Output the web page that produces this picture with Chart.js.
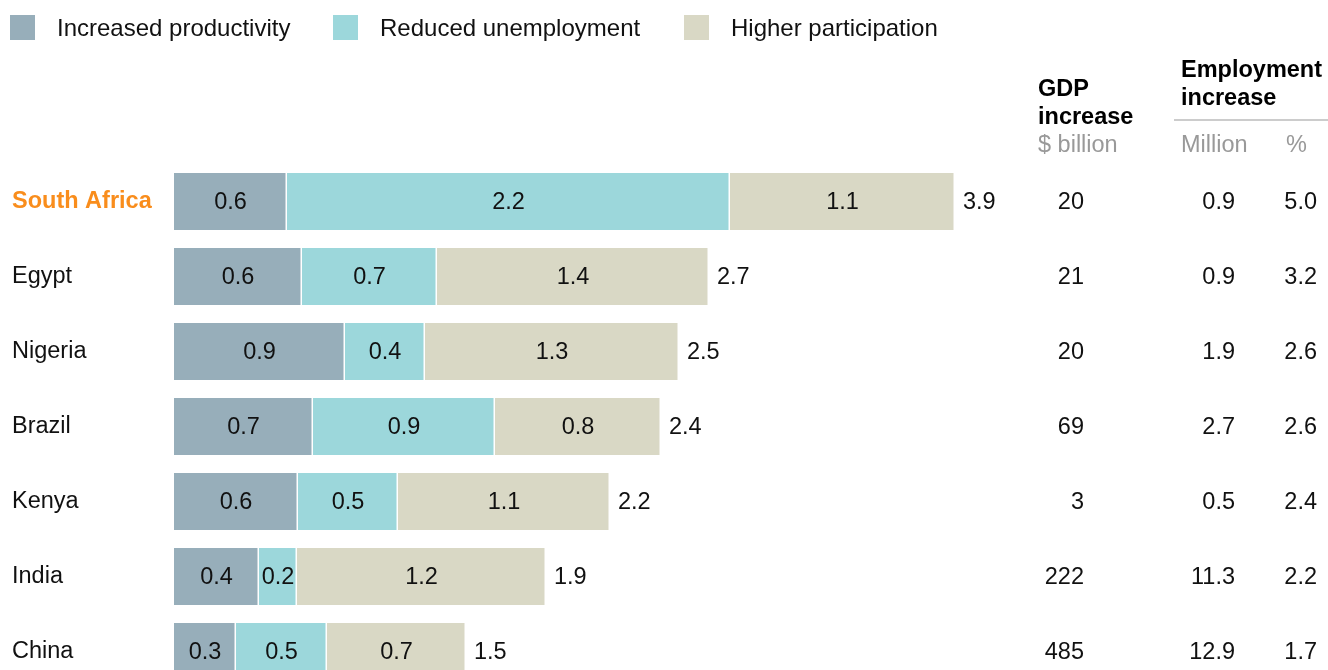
<!DOCTYPE html>
<html>
<head>
<meta charset="utf-8">
<script src="https://cdn.jsdelivr.net/npm/chart.js@4"></script>
<style>
  html, body { margin: 0; padding: 0; background: #fff; overflow: hidden; }
  canvas { display: block; }
</style>
</head>
<body>
<canvas id="chart" width="1328" height="703"></canvas>
<script>
const countries = ["South Africa", "Egypt", "Nigeria", "Brazil", "Kenya", "India", "China"];
// segment sizes (labels show them rounded to one decimal)
const productivity = [0.565, 0.64, 0.855, 0.695, 0.62, 0.425, 0.31];
const unemployment = [2.215, 0.675, 0.40, 0.91, 0.50, 0.19, 0.455];
const participation = [1.125, 1.36, 1.27, 0.83, 1.06, 1.245, 0.695];
const gdpIncrease = [20, 21, 20, 69, 3, 222, 485];
const empMillion = [0.9, 0.9, 1.9, 2.7, 0.5, 11.3, 12.9];
const empPercent = [5.0, 3.2, 2.6, 2.6, 2.4, 2.2, 1.7];
const seriesNames = ["Increased productivity", "Reduced unemployment", "Higher participation"];
const seriesColors = ["#97AEBA", "#9CD7DB", "#D9D8C5"];

const FONT = "'Liberation Sans', Arial, sans-serif";
const highlight = "South Africa";
const orange = "#F98D1C";

const extras = {
  id: "extras",
  afterDatasetsDraw(chart) {
    const ctx = chart.ctx;
    const yScale = chart.scales.y;
    ctx.save();
    ctx.font = "23.5px " + FONT;
    ctx.fillStyle = "#111";
    ctx.textBaseline = "middle";
    // values inside segments
    chart.data.datasets.forEach((ds, di) => {
      const meta = chart.getDatasetMeta(di);
      meta.data.forEach((bar, i) => {
        ctx.textAlign = "center";
        const mid = (bar.x + bar.base) / 2;
        ctx.fillText(ds.data[i].toFixed(1), mid, bar.y + 1);
      });
    });
    // totals at bar end
    const last = chart.getDatasetMeta(chart.data.datasets.length - 1);
    last.data.forEach((bar, i) => {
      const total = productivity[i] + unemployment[i] + participation[i];
      ctx.textAlign = "left";
      ctx.fillText(total.toFixed(1), bar.x + 8, bar.y + 1);
    });
    // right-hand columns
    countries.forEach((c, i) => {
      const y = yScale.getPixelForValue(i) + 1;
      ctx.textAlign = "right";
      ctx.fillText(String(gdpIncrease[i]), 1084, y);
      ctx.fillText(empMillion[i].toFixed(1), 1235, y);
      ctx.fillText(empPercent[i].toFixed(1), 1317, y);
    });
    ctx.restore();
  },
  afterDraw(chart) {
    const ctx = chart.ctx;
    ctx.save();
    ctx.textBaseline = "middle";
    // legend
    const legendX = [10, 333, 684];
    ctx.font = "24px " + FONT;
    seriesNames.forEach((name, i) => {
      ctx.fillStyle = seriesColors[i];
      ctx.fillRect(legendX[i], 15, 25, 25);
      ctx.fillStyle = "#111";
      ctx.textAlign = "left";
      ctx.fillText(name, legendX[i] + 47, 29);
    });
    // column headers
    ctx.font = "bold 23.5px " + FONT;
    ctx.fillStyle = "#000";
    ctx.fillText("GDP", 1038, 90);
    ctx.fillText("increase", 1038, 118);
    ctx.fillText("Employment", 1181, 71);
    ctx.fillText("increase", 1181, 99);
    ctx.font = "23.5px " + FONT;
    ctx.fillStyle = "#999";
    ctx.fillText("$ billion", 1038, 146);
    ctx.fillText("Million", 1181, 146);
    ctx.fillText("%", 1286, 146);
    ctx.strokeStyle = "#ccc";
    ctx.lineWidth = 2;
    ctx.beginPath();
    ctx.moveTo(1174, 120);
    ctx.lineTo(1328, 120);
    ctx.stroke();
    ctx.restore();
  }
};

new Chart(document.getElementById("chart"), {
  type: "bar",
  data: {
    labels: countries,
    datasets: seriesNames.map((name, i) => ({
      label: name,
      data: [productivity, unemployment, participation][i],
      backgroundColor: seriesColors[i],
      borderColor: "#fff",
      borderWidth: { left: 0, right: 1.5, top: 0, bottom: 0 },
      borderSkipped: false,
      barPercentage: 0.76,
      categoryPercentage: 1,
    })),
  },
  options: {
    indexAxis: "y",
    responsive: false,
    animation: false,
    layout: { padding: { left: 12, right: 154, top: 164, bottom: 0 } },
    plugins: {
      legend: { display: false },
      tooltip: { enabled: false },
    },
    scales: {
      x: {
        stacked: true,
        display: false,
        min: 0,
        max: 5,
      },
      y: {
        stacked: true,
        grid: { display: false },
        border: { display: false },
        afterFit(scale) { scale.width = 162; },
        ticks: {
          crossAlign: "far",
          padding: 0,
          color: (c) => (countries[c.index] === highlight ? orange : "#111"),
          font: (c) => ({
            family: FONT,
            size: 23.5,
            weight: countries[c.index] === highlight ? "bold" : "normal",
          }),
        },
      },
    },
  },
  plugins: [extras],
});
</script>
</body>
</html>
